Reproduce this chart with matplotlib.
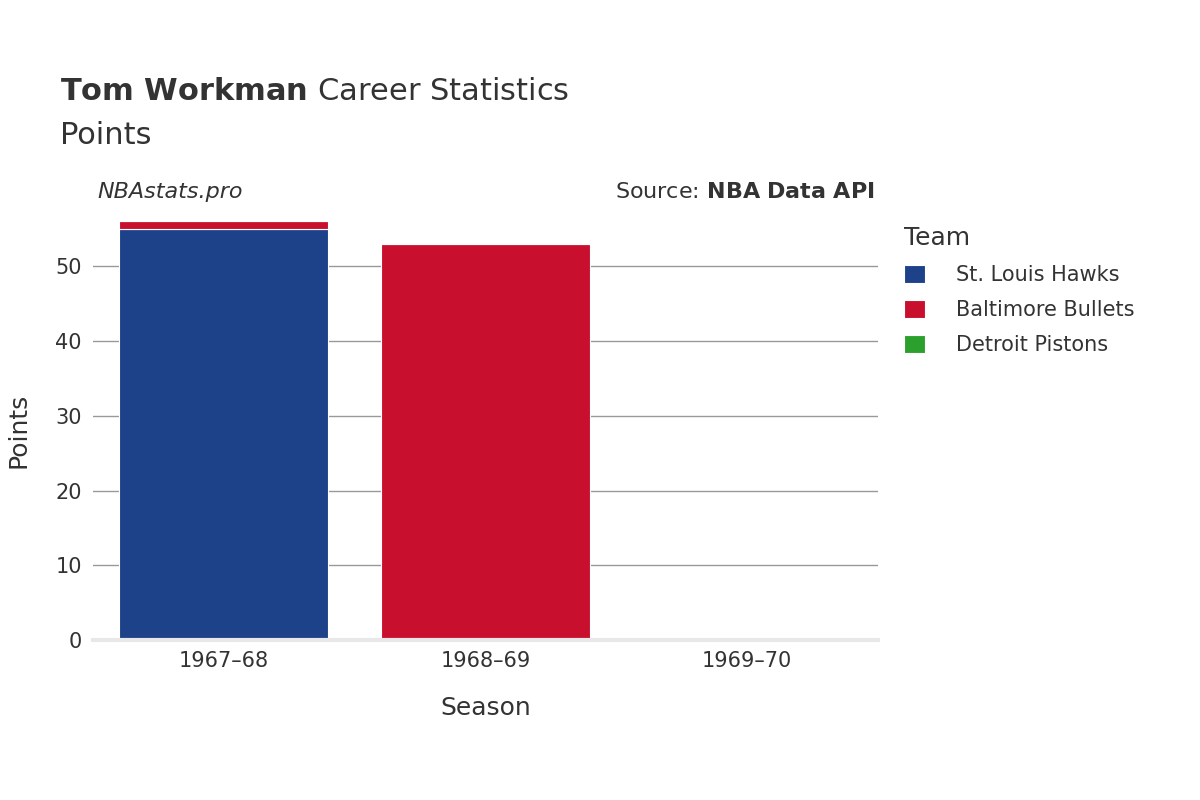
import matplotlib
matplotlib.use("Agg")
import matplotlib.pyplot as plt
import numpy as np

seasons = ["1967–68", "1968–69", "1969–70"]
teams = ["St. Louis Hawks", "Baltimore Bullets", "Detroit Pistons"]
colors = ["#1d428a", "#c8102e", "#2ca02c"]
hawks = [55, 0, 0]
bullets = [1, 53, 0]
pistons = [0, 0, 0]
series = [hawks, bullets, pistons]
yticks = [0, 10, 20, 30, 40, 50]

plt.rcParams["font.family"] = "DejaVu Sans"
fig = plt.figure(figsize=(12, 8), dpi=100)
ax = fig.add_axes([0.0775, 0.2, 0.654, 0.525])
x = np.arange(len(seasons))
bottom = np.zeros(len(seasons))
for name, vals, c in zip(teams, series, colors):
    v = np.array(vals, dtype=float)
    ax.bar(x, v, 0.8, bottom=bottom, color=c, label=name, edgecolor="white", linewidth=0.8)
    bottom += v
ax.set_xlim(-0.5, 2.5)
ax.set_ylim(0, 56.2)
ax.set_yticks(yticks)
ax.set_xticks(x)
ax.set_xticklabels(seasons)
ax.grid(axis="y", color="#999999", linewidth=1)
ax.set_axisbelow(True)
for s in ["top", "right", "left"]:
    ax.spines[s].set_visible(False)
ax.spines["bottom"].set_color("#e8e8e8")
ax.spines["bottom"].set_linewidth(3)
ax.tick_params(length=0, labelsize=15, colors="#333333", pad=8)
ax.set_xlabel("Season", fontsize=18, color="#333333", labelpad=18)
ax.set_ylabel("Points", fontsize=18, color="#333333", labelpad=18)

fig.text(0.05, 0.875, "$\\bf{Tom\\ Workman}$ Career Statistics", fontsize=22, color="#333333", va="baseline")
fig.text(0.05, 0.82, "Points", fontsize=22, color="#333333", va="baseline")
fig.text(0.081, 0.752, "NBAstats.pro", fontsize=16, style="italic", color="#333333", va="baseline")
fig.text(0.729, 0.752, "Source: $\\bf{NBA\\ Data\\ API}$", fontsize=16, color="#333333", va="baseline", ha="right")

leg = ax.legend(title="Team", loc="upper left", bbox_to_anchor=(1.01, 1.03), frameon=False,
                fontsize=15, title_fontsize=18, handlelength=1, handleheight=1, labelspacing=0.7,
                alignment="left", handletextpad=1.5)
for t in leg.get_texts():
    t.set_color("#333333")
leg.get_title().set_color("#333333")
fig.savefig("out.png", dpi=100)
